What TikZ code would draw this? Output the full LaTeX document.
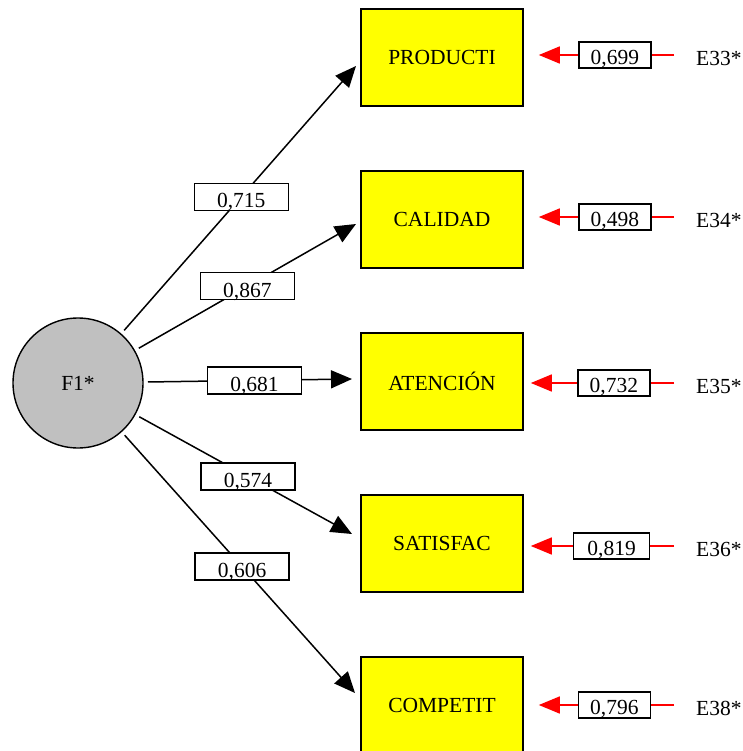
\documentclass[tikz,border=0pt]{standalone}
\usepackage{fontspec}
\setmainfont{Liberation Serif}
\usetikzlibrary{arrows.meta}
\definecolor{latgray}{RGB}{192,192,192}
\definecolor{obsyellow}{RGB}{255,255,0}
\definecolor{errred}{RGB}{255,0,0}
\tikzset{
  latent/.style={circle, draw=black, fill=latgray, line width=1.4pt,
    minimum size=130pt, inner sep=0pt, outer sep=5pt},
  observed/.style={rectangle, draw=black, fill=obsyellow, line width=1.6pt,
    minimum width=162pt, minimum height=97pt, inner sep=0pt},
  coef/.style={rectangle, draw=black, fill=white, line width=1.4pt,
    minimum width=94pt, minimum height=27pt, inner sep=0pt,
    text height=22pt, text depth=0pt},
  rescoef/.style={rectangle, draw=black, fill=white, line width=1.4pt,
    minimum width=72pt, minimum height=26pt, inner sep=0pt,
    text height=19pt, text depth=0pt},
  errname/.style={anchor=west, inner sep=0pt, text height=21pt, text depth=0pt},
  loading/.style={draw=black, line width=1.5pt,
    -{Triangle[length=21pt,width=18pt]}},
  residual/.style={draw=errred, line width=1.6pt,
    -{Triangle[length=21pt,width=17pt]}}
}
\begin{document}
\begin{tikzpicture}[x=1pt, y=-1pt, font=\fontsize{21.5}{25}\selectfont]
  \useasboundingbox (0,0) rectangle (742,751);

  % factor and indicators
  \node[latent] (F1) at (78,383) {F1*};
  \node[observed] (PRODUCTI) at (442,57.5) {PRODUCTI};
  \node[observed] (CALIDAD)  at (442,219.5) {CALIDAD};
  \node[observed] (ATENCION) at (442,381.5) {ATENCIÓN};
  \node[observed] (SATISFAC) at (442,543.5) {SATISFAC};
  \node[observed] (COMPETIT) at (442,705.5) {COMPETIT};

  % arrow ends just left of each indicator
  \coordinate (inP) at (356,66);
  \coordinate (inC) at (356,224);
  \coordinate (inA) at (352,379);
  \coordinate (inS) at (352,534);
  \coordinate (inK) at (355,693);

  % factor loadings
  \draw[loading] (F1) -- node[coef, pos=0.505] {0,715} (inP);
  \draw[loading] (F1) -- node[coef, pos=0.50]  {0,867} (inC);
  \draw[loading] (F1) -- node[coef, pos=0.522] {0,681} (inA);
  \draw[loading] (F1) -- node[coef, pos=0.511] {0,574} (inS);
  \draw[loading] (F1) -- node[coef, pos=0.51]  {0,606} (inK);

  % error terms
  \node[errname] (E33) at (696,55)  {E33*};
  \node[errname] (E34) at (696,217) {E34*};
  \node[errname] (E35) at (696,383) {E35*};
  \node[errname] (E36) at (696,546) {E36*};
  \node[errname] (E38) at (696,705) {E38*};

  \draw[residual, shorten <=22pt, shorten >=15pt]
    (E33.west) -- node[rescoef, pos=0.471] {0,699} (E33.west -| PRODUCTI.east);
  \draw[residual, shorten <=22pt, shorten >=15pt]
    (E34.west) -- node[rescoef, pos=0.471] {0,498} (E34.west -| CALIDAD.east);
  \draw[residual, shorten <=22pt, shorten >=7pt]
    (E35.west) -- node[rescoef, pos=0.477] {0,732} (E35.west -| ATENCION.east);
  \draw[residual, shorten <=22pt, shorten >=7pt]
    (E36.west) -- node[rescoef, pos=0.49, minimum width=76pt] {0,819} (E36.west -| SATISFAC.east);
  \draw[residual, shorten <=22pt, shorten >=15pt]
    (E38.west) -- node[rescoef, pos=0.474] {0,796} (E38.west -| COMPETIT.east);
\end{tikzpicture}
\end{document}
